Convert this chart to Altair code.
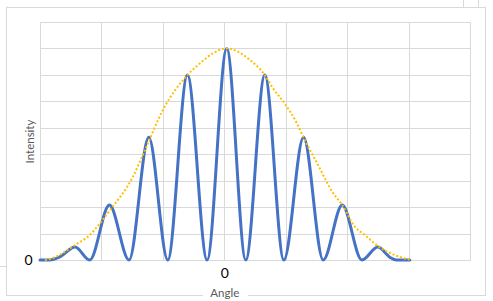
import altair as alt
import pandas as pd

# Blue curve (interference x diffraction)
blue_angle = [-3.00, -2.84, -2.67, -2.43, -2.19, -1.87, -1.55, -1.23, -0.92, -0.60,
              -0.28, 0.04, 0.35, 0.66, 0.97, 1.29, 1.61, 1.92, 2.24, 2.50,
              2.70, 2.80, 3.02]
blue_int = [0.0, 0.0, 0.016, 0.061, 0.0, 0.26, 0.0, 0.58, 0.0, 0.874,
            0.0, 1.0, 0.0, 0.874, 0.0, 0.58, 0.0, 0.26, 0.0, 0.061,
            0.012, 0.0, 0.0]

# Orange dotted envelope
env_angle = [-2.92, -2.84, -2.63, -2.43, -2.19, -2.02, -1.86, -1.49, -1.29, -1.00,
             -0.60, -0.39, -0.18, 0.03, 0.42, 0.66, 0.79, 0.99, 1.18, 1.29,
             1.51, 1.77, 1.92, 2.13, 2.29, 2.50, 2.70, 2.86, 3.02]
env_int = [0.0, 0.005, 0.033, 0.071, 0.118, 0.175, 0.236, 0.392, 0.520, 0.709,
           0.874, 0.931, 0.978, 1.0, 0.945, 0.874, 0.813, 0.737, 0.647, 0.579,
           0.458, 0.317, 0.260, 0.156, 0.118, 0.066, 0.033, 0.014, 0.002]

x_ticks = [-3, -2, -1, 0, 1, 2, 3, 4]
y_ticks = [0, 0.125, 0.25, 0.375, 0.5, 0.625, 0.75, 0.875, 1.0, 1.125]

blue_df = pd.DataFrame({"u": blue_angle, "v": blue_int})
env_df = pd.DataFrame({"u": env_angle, "v": env_int})

FONT = "Lato"
GRID = "#D9D9D9"

X = alt.X("u:Q",
          scale=alt.Scale(domain=[-3, 4], nice=False, zero=False),
          axis=alt.Axis(values=x_ticks, labelExpr="datum.value == 0 ? '0' : ''",
                        grid=True, gridColor=GRID, ticks=False, domainColor=GRID,
                        labelFont=FONT, labelFontSize=14, labelColor="#000000",
                        labelPadding=6, labelFlush=False,
                        title="Angle", titleFont=FONT, titleFontSize=11.5,
                        titleFontWeight="normal", titleColor="#595959",
                        titleX=184.3, titleY=36.5, titleAlign="center",
                        titleBaseline="alphabetic"))
Y = alt.Y("v:Q",
          scale=alt.Scale(domain=[0, 1.125], nice=False, zero=True),
          axis=alt.Axis(values=y_ticks, labelExpr="datum.value == 0 ? '0' : ''",
                        grid=True, gridColor=GRID, ticks=False, domain=False,
                        labelFont=FONT, labelFontSize=14, labelColor="#000000",
                        labelPadding=8, labelFlush=False,
                        title="Intensity", titleFont=FONT, titleFontSize=11.5,
                        titleFontWeight="normal", titleColor="#595959",
                        titleAngle=270, titleX=-6.5, titleY=119,
                        titleAlign="center", titleBaseline="alphabetic"))

blue = alt.Chart(blue_df).mark_line(
    color="#4472C4", strokeWidth=3, interpolate="monotone",
    strokeJoin="round", strokeCap="round"
).encode(x=X, y=Y)

env = alt.Chart(env_df).mark_line(
    color="#FFC000", strokeWidth=2, interpolate="monotone",
    strokeDash=[2, 2]
).encode(x=X, y=Y)

one = pd.DataFrame({"k": [0]})


def rule(x1, y1, x2, y2):
    return alt.Chart(one).mark_rule(color=GRID, strokeWidth=1).encode(
        x=alt.value(x1), x2=alt.value(x2), y=alt.value(y1), y2=alt.value(y2))


frame = [
    rule(-33.5, -15.5, -33.5, 273.5),   # left border
    rule(-34, -14.5, 446, -14.5),       # top border
    rule(445.5, -15.5, 445.5, 273.5),   # right border
    rule(-34, 273.5, 163, 273.5),       # bottom border left part
    rule(208, 273.5, 446, 273.5),       # bottom border right part
    rule(423.5, -22, 423.5, -15),       # small cell marks top right
    rule(438.5, -22, 438.5, -15),
    rule(-40, 244.5, -34, 244.5),       # small mark on the left
]

chart = alt.layer(*frame, blue, env).properties(
    width=430, height=238,
    padding={"left": 40, "top": 22, "right": 23, "bottom": 41},
    autosize="none",
    background="white",
).configure_view(stroke=None)

chart.save("out.html", embed_options={"renderer": "svg", "actions": False})
